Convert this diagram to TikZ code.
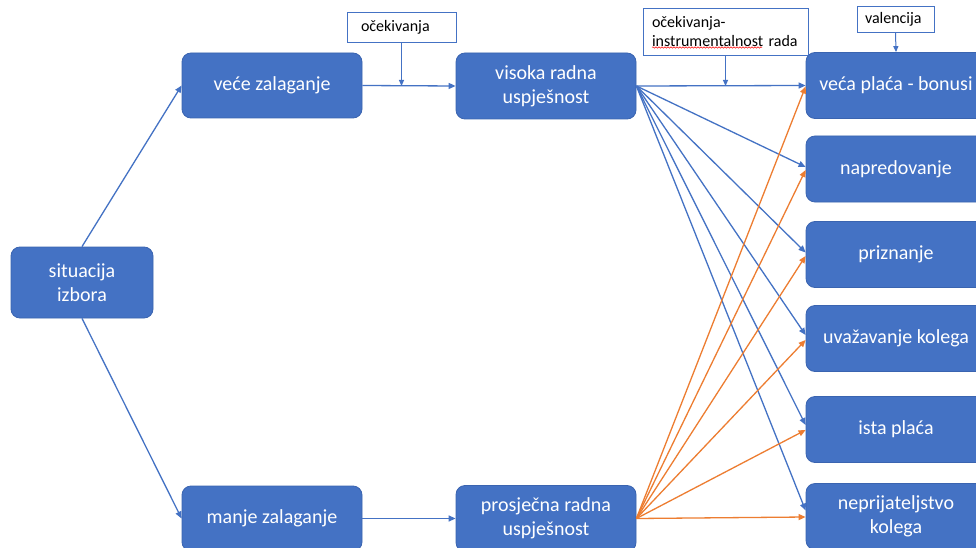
\documentclass[tikz,border=0pt]{standalone}
\usepackage{fontspec}
\setmainfont{Carlito}
\usetikzlibrary{arrows.meta,calc,decorations.pathmorphing}
\definecolor{obox}{HTML}{4472C4}
\definecolor{oedge}{HTML}{3A64B0}
\definecolor{oorange}{HTML}{ED7D31}
\begin{document}
\begin{tikzpicture}[x=1pt,y=-1pt,
  box/.style={draw=oedge,line width=0.8pt,fill=obox,rounded corners=9pt,text=white,
    font=\fontsize{20}{24}\selectfont,align=center,minimum width=180pt,minimum height=66pt,inner sep=0pt},
  callout/.style={draw=obox,line width=0.8pt,fill=white,font=\fontsize{16}{19.5}\selectfont,
    align=left,inner ysep=0pt,inner xsep=9pt},
  bluearrow/.style={draw=obox,line width=1.3pt,-{Triangle[length=7pt,width=6pt]}},
  orangearrow/.style={draw=oorange,line width=1.3pt,-{Triangle[length=7pt,width=6pt]}}]
\useasboundingbox (0,0) rectangle (976,548);
\fill[white] (0,0) rectangle (976,548);

% main boxes
\node[box,minimum width=142pt,minimum height=71pt] (s) at (82,282.5) {situacija\\izbora};
\node[box,minimum height=65pt] (v) at (272,85.5) {veće zalaganje};
\node[box,minimum height=65pt] (m) at (272,518.5) {manje zalaganje};
\node[box] (hi) at (546,86) {visoka radna\\uspješnost};
\node[box] (av) at (546,518.5) {prosječna radna\\uspješnost};

\node[box] (r1) at (896,85.5) {veća plaća - bonusi};
\node[box] (r2) at (896,169) {napredovanje};
\node[box] (r3) at (896,254.5) {priznanje};
\node[box] (r4) at (896,338.5) {uvažavanje kolega};
\node[box] (r5) at (896,429.5) {ista plaća};
\node[box] (r6) at (896,516.5) {neprijateljstvo\\kolega};

% callouts
\node[callout,inner xsep=14pt,text width=81pt,minimum height=30pt] (c1) at (401.5,27) {očekivanja};
\node[callout,text width=147pt,minimum height=47pt] (c2) at (725.5,31.5) {očekivanja-\\instrumentalnost rada};
\node[callout,inner xsep=8pt,text width=61pt,minimum height=26pt] (c3) at (895.5,19) {valencija};
\draw[red,line width=0.5pt,decorate,decoration={snake,amplitude=0.7pt,segment length=3pt}] (652,47.5) -- (762,47.5);

% left connectors
\draw[bluearrow] (s.north) -- (v.west);
\draw[bluearrow] (s.south) -- (m.west);
\draw[bluearrow] (v.east) -- (hi.west);
\draw[bluearrow] (m.east) -- (av.west);

% callout arrows
\coordinate (k1) at (c1.south |- hi.west);
\coordinate (k2) at (c2.south |- hi.west);
\draw[bluearrow,line width=1pt,-{Triangle[length=6pt,width=5pt]}] (c1.south) -- (k1);
\draw[bluearrow,line width=1pt,-{Triangle[length=6pt,width=5pt]}] (c2.south) -- (k2);
\draw[bluearrow,line width=1pt,-{Triangle[length=6pt,width=5pt]}] (c3.south) -- (r1.north);

% blue fan from high performance
\draw[bluearrow] (hi.east) -- (r1.west);
\draw[bluearrow] (hi.east) -- ($(r2.west)+(0,-2)$);
\draw[bluearrow] (hi.east) -- ($(r3.west)+(0,-2)$);
\draw[bluearrow] (hi.east) -- ($(r4.west)+(0,-3.5)$);
\draw[bluearrow] (hi.east) -- ($(r5.west)+(0,-4.5)$);
\draw[bluearrow] (hi.east) -- ($(r6.west)+(0,-6)$);

% orange fan from average performance
\draw[orangearrow] (av.east) -- ($(r1.west)+(0,1)$);
\draw[orangearrow] (av.east) -- ($(r2.west)+(0,1)$);
\draw[orangearrow] (av.east) -- ($(r3.west)+(0,1.5)$);
\draw[orangearrow] (av.east) -- ($(r4.west)+(0,1.5)$);
\draw[orangearrow] (av.east) -- ($(r5.west)+(0,0.5)$);
\draw[orangearrow] (av.east) -- ($(r6.west)+(0,0.5)$);
\end{tikzpicture}
\end{document}
